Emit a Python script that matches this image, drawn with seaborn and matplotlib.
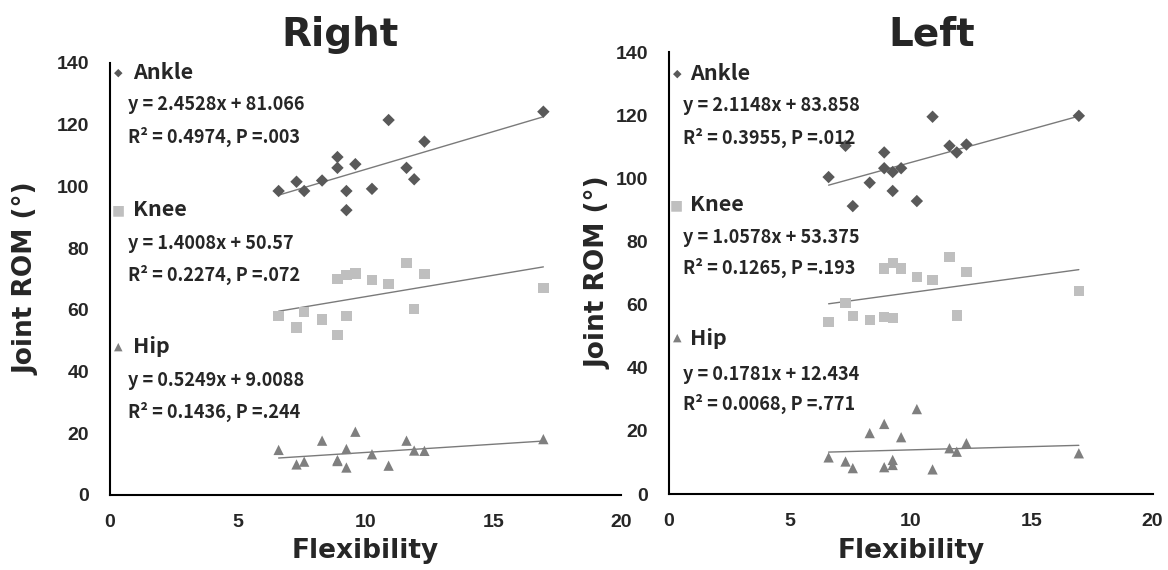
import pandas as pd
import seaborn as sns
import matplotlib.pyplot as plt

# flexibility scores (shared x for every series)
flexibility = [6.6, 7.3, 7.6, 8.3, 8.9, 8.9, 9.25, 9.25, 9.6, 10.25, 10.9, 11.6, 11.9, 12.3, 16.95]

# Right side joint ROM
right_ankle = [98.5, 101.5, 98.5, 101.9, 109.5, 106.0, 98.5, 92.3, 107.2, 99.2, 121.5, 106.0, 102.3, 114.5, 124.2]
right_knee = [58.0, 54.3, 59.2, 56.9, 69.9, 51.8, 71.3, 58.1, 71.8, 69.7, 68.4, 75.1, 60.3, 71.6, 67.0]
right_hip = [14.6, 9.9, 10.8, 17.6, 11.3, 11.0, 14.9, 8.9, 20.5, 13.2, 9.5, 17.6, 14.4, 14.3, 18.1]

# Left side joint ROM
left_ankle = [100.4, 110.3, 91.2, 98.6, 108.2, 103.2, 102.0, 96.0, 103.2, 92.8, 119.5, 110.3, 108.2, 110.7, 119.8]
left_knee = [54.4, 60.5, 56.3, 55.2, 71.4, 56.1, 73.2, 55.8, 71.4, 68.7, 67.7, 75.0, 56.5, 70.3, 64.2]
left_hip = [11.6, 10.3, 8.2, 19.3, 22.2, 8.5, 10.8, 9.2, 18.0, 26.9, 7.8, 14.5, 13.4, 16.1, 12.9]

joints = ['Ankle', 'Knee', 'Hip']
right_eq = ['y = 2.4528x + 81.066', 'y = 1.4008x + 50.57', 'y = 0.5249x + 9.0088']
right_r2 = ['R² = 0.4974, P =.003', 'R² = 0.2274, P =.072', 'R² = 0.1436, P =.244']
left_eq = ['y = 2.1148x + 83.858', 'y = 1.0578x + 53.375', 'y = 0.1781x + 12.434']
left_r2 = ['R² = 0.3955, P =.012', 'R² = 0.1265, P =.193', 'R² = 0.0068, P =.771']

sns.set_style('white')
plt.rcParams['font.family'] = ['Liberation Sans', 'DejaVu Sans']
plt.rcParams['font.weight'] = 'bold'

markers = {'Ankle': 'D', 'Knee': 's', 'Hip': '^'}
colors = {'Ankle': '#595959', 'Knee': '#bfbfbf', 'Hip': '#7f7f7f'}
sizes = {'Ankle': 40, 'Knee': 55, 'Hip': 55}
glyphs = {'Ankle': '◆', 'Knee': '■', 'Hip': '▲'}
glyph_size = {'Ankle': 8, 'Knee': 10, 'Hip': 8}
ann_font = ['Noto Sans CJK KR', 'DejaVu Sans']
wide_font = ['DejaVu Sans']

fig = plt.figure(figsize=(11.68, 5.70), dpi=100)
ax_r = fig.add_axes([0.094, 0.1316, 0.438, 0.758])
ax_l = fig.add_axes([0.5728, 0.1333, 0.414, 0.7754])

panels = [
    (ax_r, [right_ankle, right_knee, right_hip], right_eq, right_r2,
     [0.977, 0.66, 0.343], [0.903, 0.583, 0.264], [0.829, 0.509, 0.192], 0.016, 0.045, 0.035, -0.137),
    (ax_l, [left_ankle, left_knee, left_hip], left_eq, left_r2,
     [0.952, 0.654, 0.353], [0.880, 0.581, 0.271], [0.805, 0.511, 0.204], 0.016, 0.043, 0.029, -0.118),
]

for ax, series, eqs, r2s, y_name, y_eq, y_r2, x_mk, x_name, x_eq, ylab_x in panels:
    for joint, vals, eq, r2, yn, ye, yr in zip(joints, series, eqs, r2s, y_name, y_eq, y_r2):
        df = pd.DataFrame({'flex': flexibility, 'rom': vals})
        sns.regplot(data=df, x='flex', y='rom', scatter=False, ci=None, ax=ax,
                    line_kws={'color': '#7a7a7a', 'lw': 1.0})
        sns.scatterplot(data=df, x='flex', y='rom', marker=markers[joint], color=colors[joint],
                        s=sizes[joint], edgecolor='none', ax=ax, zorder=3)
        ax.text(x_mk, yn, glyphs[joint], transform=ax.transAxes, ha='center', va='center',
                color=colors[joint], fontsize=glyph_size[joint], family=['DejaVu Sans'])
        ax.text(x_name, yn, joint, transform=ax.transAxes, ha='left', va='center',
                fontsize=15.5, family=ann_font, fontweight='bold')
        ax.text(x_eq, ye, eq, transform=ax.transAxes, ha='left', va='center',
                fontsize=13, family=ann_font, fontweight='bold')
        ax.text(x_eq, yr, r2, transform=ax.transAxes, ha='left', va='center',
                fontsize=13, family=ann_font, fontweight='bold')

    ax.set_xlim(0, 20)
    ax.set_ylim(0, 140)
    ax.set_xticks([0, 5, 10, 15, 20])
    ax.set_yticks(range(0, 141, 20))
    ax.tick_params(length=0, labelsize=14)
    ax.tick_params(axis='x', pad=14)
    ax.tick_params(axis='y', pad=15)
    for side in ['top', 'right']:
        ax.spines[side].set_visible(False)
    for side in ['left', 'bottom']:
        ax.spines[side].set_color('black')
        ax.spines[side].set_linewidth(1.5)
    ax.set_xlabel('Flexibility', fontsize=19, fontweight='bold', family=wide_font)
    ax.set_ylabel('Joint ROM (°)', fontsize=19, fontweight='bold', family=wide_font)
    ax.xaxis.set_label_coords(0.5, -0.1)
    ax.yaxis.set_label_coords(ylab_x, 0.5)

fig.text(340 / 1168, 1 - 35 / 570, 'Right', ha='center', va='center', fontsize=28,
         fontweight='bold', family=wide_font)
fig.text(932 / 1168, 1 - 35 / 570, 'Left', ha='center', va='center', fontsize=28,
         fontweight='bold', family=wide_font)

plt.savefig('out.png', dpi=100)
